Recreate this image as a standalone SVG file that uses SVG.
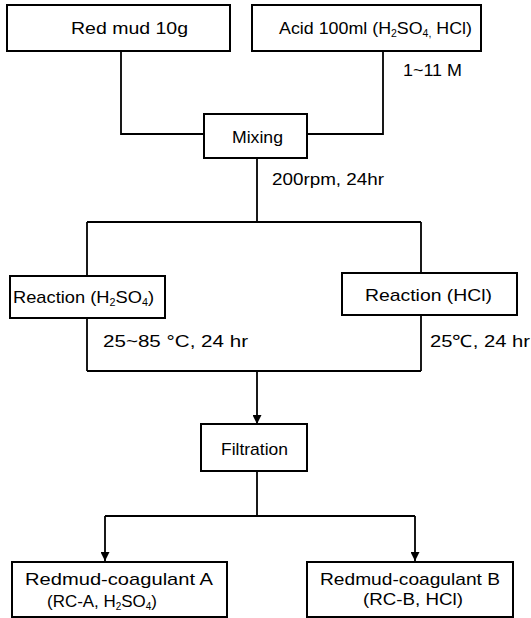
<svg xmlns="http://www.w3.org/2000/svg" width="531" height="618" viewBox="0 0 531 618">
<defs>
<style>
.box{fill:#fff;stroke:#000;stroke-width:2}
.ln{fill:none;stroke:#000;stroke-width:1.8}
text{font-family:"Liberation Sans",Arial,sans-serif;font-size:17px;fill:#000}
.s{font-size:10px}
</style>
<marker id="ah" viewBox="0 0 10 10" refX="10" refY="5" markerWidth="9" markerHeight="9" markerUnits="userSpaceOnUse" orient="auto">
<path d="M0,0 L10,5 L0,10 Z" fill="#000"/>
</marker>
</defs>
<rect width="531" height="618" fill="#fff"/>
<g id="connectors">
<polyline class="ln" points="121,51 121,134 204,134"/>
<polyline class="ln" points="383,51 383,134 307,134"/>
<line class="ln" x1="257" y1="158" x2="257" y2="222"/>
<line class="ln" x1="87" y1="222" x2="421" y2="222"/>
<line class="ln" x1="87" y1="222" x2="87" y2="276"/>
<line class="ln" x1="421" y1="222" x2="421" y2="273"/>
<line class="ln" x1="87" y1="318" x2="87" y2="371"/>
<line class="ln" x1="421" y1="315" x2="421" y2="371"/>
<line class="ln" x1="87" y1="371" x2="421" y2="371"/>
<line class="ln" x1="257" y1="371" x2="257" y2="424" marker-end="url(#ah)"/>
<line class="ln" x1="257" y1="471" x2="257" y2="516"/>
<line class="ln" x1="105" y1="516" x2="415" y2="516"/>
<line class="ln" x1="105" y1="516" x2="105" y2="561" marker-end="url(#ah)"/>
<line class="ln" x1="415" y1="516" x2="415" y2="561" marker-end="url(#ah)"/>
<text x="403" y="76" textLength="59" lengthAdjust="spacingAndGlyphs">1~11 M</text>
<text x="272" y="185" textLength="112" lengthAdjust="spacingAndGlyphs">200rpm, 24hr</text>
<text x="103" y="347" textLength="145" lengthAdjust="spacingAndGlyphs">25~85 °C, 24 hr</text>
<text x="430" y="347" textLength="100" lengthAdjust="spacingAndGlyphs">25℃, 24 hr</text>
</g>
<g id="redmud">
<rect class="box" x="7" y="5" width="223" height="46"/>
<text x="71" y="34" textLength="117" lengthAdjust="spacingAndGlyphs">Red mud 10g</text>
</g>
<g id="acid">
<rect class="box" x="252" y="5" width="229" height="46"/>
<text x="279" y="34" textLength="193" lengthAdjust="spacingAndGlyphs">Acid 100ml (H<tspan class="s" dy="3">2</tspan><tspan dy="-3">SO</tspan><tspan class="s" dy="3">4,</tspan><tspan dy="-3"> HCl)</tspan></text>
</g>
<g id="mixing">
<rect class="box" x="204" y="114" width="103" height="44"/>
<text x="232" y="143" textLength="51" lengthAdjust="spacingAndGlyphs">Mixing</text>
</g>
<g id="reaction-h2so4">
<rect class="box" x="10" y="276" width="155" height="42"/>
<text x="13" y="303" textLength="141" lengthAdjust="spacingAndGlyphs">Reaction (H<tspan class="s" dy="3">2</tspan><tspan dy="-3">SO</tspan><tspan class="s" dy="3">4</tspan><tspan dy="-3">)</tspan></text>
</g>
<g id="reaction-hcl">
<rect class="box" x="342" y="273" width="175" height="42"/>
<text x="365" y="301" textLength="127" lengthAdjust="spacingAndGlyphs">Reaction (HCl)</text>
</g>
<g id="filtration">
<rect class="box" x="201" y="424" width="106" height="47"/>
<text x="221" y="455" textLength="67" lengthAdjust="spacingAndGlyphs">Filtration</text>
</g>
<g id="rc-a">
<rect class="box" x="12" y="562" width="215" height="55"/>
<text x="25" y="585" textLength="188" lengthAdjust="spacingAndGlyphs">Redmud-coagulant A</text>
<text x="47" y="607" textLength="110" lengthAdjust="spacingAndGlyphs">(RC-A, H<tspan class="s" dy="3">2</tspan><tspan dy="-3">SO</tspan><tspan class="s" dy="3">4</tspan><tspan dy="-3">)</tspan></text>
</g>
<g id="rc-b">
<rect class="box" x="307" y="562" width="206" height="55"/>
<text x="320" y="585" textLength="180" lengthAdjust="spacingAndGlyphs">Redmud-coagulant B</text>
<text x="363" y="605" textLength="100" lengthAdjust="spacingAndGlyphs">(RC-B, HCl)</text>
</g>
</svg>
